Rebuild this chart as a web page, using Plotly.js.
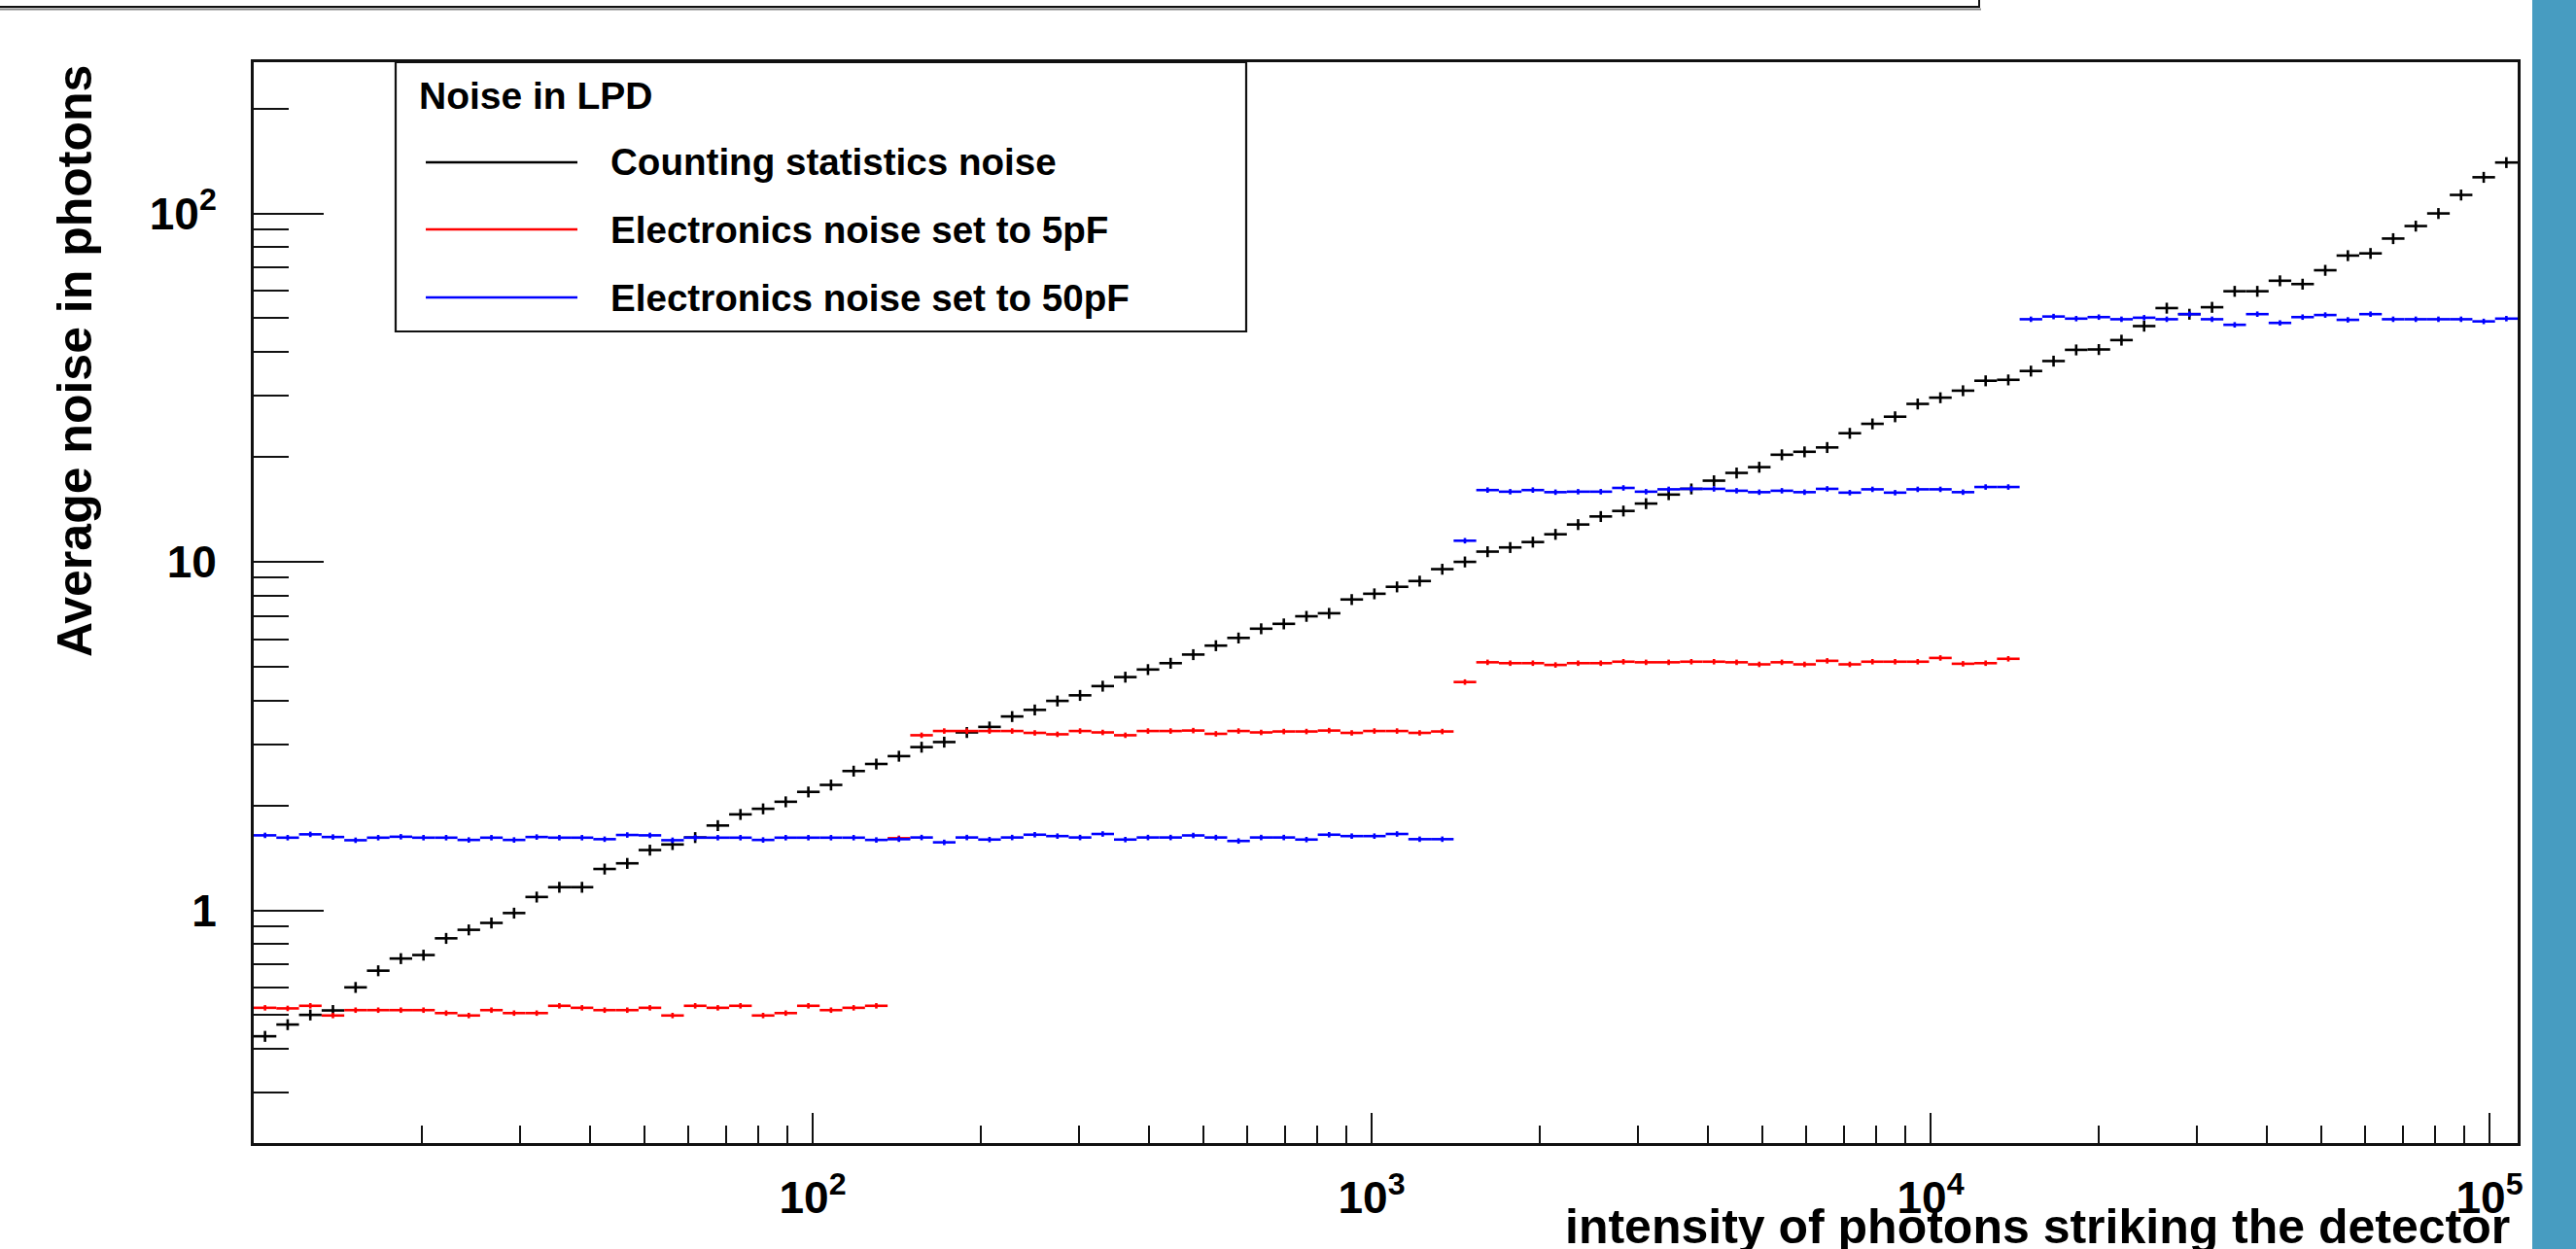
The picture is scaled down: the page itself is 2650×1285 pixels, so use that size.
<!DOCTYPE html>
<html>
<head>
<meta charset="utf-8">
<script src="https://cdn.plot.ly/plotly-3.0.1.min.js"></script>
<style>html,body{margin:0;padding:0;background:#fff;}#chart{width:2650px;height:1285px;}</style>
</head>
<body>
<div id="chart"></div>
<script>
// ---- histogram binning (log-spaced bins in photon intensity) ----
const nBins = 100;
const intensityMin = 10;       // left edge of first bin
const intensityMax = 112300;   // right edge of last bin

// ---- series values (average noise in photons, one per bin) ----
const countingNoise = [
  0.435, 0.470, 0.501, 0.516, 0.601, 0.671, 0.727, 0.744, 0.831, 0.879,
  0.920, 0.982, 1.092, 1.165, 1.165, 1.314, 1.364, 1.489, 1.545, 1.618,
  1.751, 1.885, 1.956, 2.049, 2.187, 2.29, 2.51, 2.63, 2.77, 2.94,
  3.04, 3.24, 3.36, 3.60, 3.76, 3.99, 4.14, 4.40, 4.67, 4.91,
  5.12, 5.42, 5.75, 6.05, 6.43, 6.64, 6.98, 7.12, 7.80, 8.10,
  8.48, 8.81, 9.53, 10.0, 10.7, 11.0, 11.4, 12.0, 12.8, 13.5,
  14.0, 14.7, 15.6, 16.2, 17.1, 18.0, 18.7, 20.3, 20.7, 21.3,
  23.4, 24.9, 26.1, 28.4, 29.6, 31.0, 33.1, 33.3, 35.3, 37.7,
  40.6, 40.7, 43.3, 47.5, 53.5, 51.4, 53.8, 59.8, 59.8, 64.1,
  62.7, 68.7, 75.7, 76.8, 84.7, 92.0, 100, 113, 127, 140
];
const noise5pF = [
  0.525, 0.523, 0.532, 0.499, 0.517, 0.517, 0.517, 0.517, 0.507, 0.499,
  0.517, 0.507, 0.507, 0.532, 0.525, 0.517, 0.517, 0.525, 0.499, 0.532,
  0.525, 0.532, 0.499, 0.507, 0.532, 0.517, 0.525, 0.532, 1.61, 3.18,
  3.27, 3.27, 3.27, 3.27, 3.23, 3.20, 3.27, 3.24, 3.18, 3.27,
  3.27, 3.28, 3.21, 3.27, 3.24, 3.26, 3.26, 3.28, 3.23, 3.27,
  3.27, 3.23, 3.26, 4.52, 5.15, 5.12, 5.12, 5.06, 5.12, 5.12,
  5.17, 5.15, 5.15, 5.17, 5.17, 5.15, 5.08, 5.15, 5.08, 5.20,
  5.08, 5.17, 5.17, 5.17, 5.30, 5.10, 5.12, 5.27, null, null,
  null, null, null, null, null, null, null, null, null, null,
  null, null, null, null, null, null, null, null, null, null
];
const noise50pF = [
  1.641, 1.616, 1.652, 1.623, 1.589, 1.616, 1.626, 1.616, 1.616, 1.592,
  1.616, 1.592, 1.623, 1.616, 1.616, 1.600, 1.645, 1.641, 1.589, 1.616,
  1.616, 1.616, 1.592, 1.616, 1.616, 1.616, 1.616, 1.592, 1.600, 1.618,
  1.567, 1.618, 1.596, 1.618, 1.648, 1.633, 1.618, 1.656, 1.596, 1.618,
  1.618, 1.640, 1.618, 1.581, 1.618, 1.618, 1.596, 1.648, 1.633, 1.633,
  1.656, 1.600, 1.600, 11.5, 16.07, 15.9, 16.07, 15.85, 15.9, 15.9,
  16.3, 15.9, 16.15, 16.2, 16.2, 16.0, 15.85, 16.0, 15.85, 16.2,
  15.8, 16.15, 15.8, 16.15, 16.15, 15.85, 16.4, 16.4, 49.7, 50.6,
  49.9, 50.4, 49.7, 50.2, 49.7, 51.4, 49.7, 47.9, 51.4, 48.5,
  50.4, 51.1, 49.5, 51.4, 49.7, 49.7, 49.7, 49.7, 49.0, 49.9
];

// ---- labels ----
const seriesNames = ["Counting statistics noise", "Electronics noise set to 5pF", "Electronics noise set to 50pF"];
const seriesColors = ["#000000", "#ff0000", "#0000ff"];
const legendHeader = "Noise in LPD";
const xTickVals = [100, 1000, 10000, 100000];
const xTickText = ["10<sup>2</sup>", "10<sup>3</sup>", "10<sup>4</sup>", "10<sup>5</sup>"];
const yTickVals = [1, 10, 100];
const yTickText = ["1", "10", "10<sup>2</sup>"];
const xTitle = "intensity of photons striking the detector";
const yTitle = "Average noise in photons";

// ---- bin geometry from the binning definition ----
const lmin = Math.log10(intensityMin), lmax = Math.log10(intensityMax);
const edges = [];
for (let k = 0; k <= nBins; k++) edges.push(Math.pow(10, lmin + (lmax - lmin) * k / nBins));
const centers = [], plus = [], minus = [];
for (let k = 0; k < nBins; k++) {
  const c = Math.sqrt(edges[k] * edges[k + 1]);
  centers.push(c); plus.push(edges[k + 1] - c); minus.push(c - edges[k]);
}
function minorTicks(lo, hi) {
  const v = [];
  for (let p = -1; p <= 5; p++) for (let m = 2; m <= 9; m++) {
    const t = m * Math.pow(10, p);
    if (t > lo && t < hi) v.push(t);
  }
  return v;
}

// ---- page geometry (pixels) ----
const W = 2650, H = 1285, L = 261, R = 2590, T = 64, B = 1176;
const px = X => (X - L) / (R - L);
const py = Y => (B - Y) / (B - T);

const FONT = "Liberation Sans, Arial, Helvetica, sans-serif";

function histTrace(vals, i, pct) {
  return {
    type: "scatter", mode: "markers", x: centers, y: vals, name: seriesNames[i],
    showlegend: false, cliponaxis: true,
    marker: { color: seriesColors[i], size: 3 },
    error_x: { type: "data", symmetric: false, array: plus, arrayminus: minus,
               width: 0, thickness: 2.6, color: seriesColors[i] },
    error_y: { type: "percent", value: pct, width: 0, thickness: 2.6, color: seriesColors[i] }
  };
}

const data = [
  histTrace(countingNoise, 0, 3.6),
  histTrace(noise5pF, 1, 1.8),
  histTrace(noise50pF, 2, 1.8)
];

const shapes = [
  // blue strip on the right
  { type: "rect", xref: "paper", yref: "paper", x0: px(2605), x1: px(2660), y0: py(-10), y1: py(1295),
    fillcolor: "#479cc1", line: { width: 0 } },
  // cut-off title box at the top
  { type: "rect", xref: "paper", yref: "paper", x0: px(-20), x1: px(2036), y0: py(7), y1: py(-20),
    fillcolor: "rgba(0,0,0,0)", line: { color: "#111", width: 2 } },
  { type: "line", xref: "paper", yref: "paper", x0: px(0), x1: px(2038), y0: py(9.5), y1: py(9.5),
    line: { color: "#888", width: 2 } },
  // legend box
  { type: "rect", xref: "paper", yref: "paper", x0: px(407), x1: px(1282), y0: py(341), y1: py(64),
    fillcolor: "#ffffff", line: { color: "#111", width: 2.2 }, layer: "below" }
];
const annotations = [
  { xref: "paper", yref: "paper", x: px(429), y: py(98), xanchor: "left", yanchor: "middle",
    text: legendHeader, showarrow: false, font: { family: FONT, size: 39, weight: "bold", color: "#000" } },
  { xref: "paper", yref: "paper", x: px(77), y: py(372), xanchor: "center", yanchor: "middle",
    textangle: -90, text: yTitle, showarrow: false, font: { family: FONT, size: 50, weight: "bold", color: "#000" } },
  { xref: "paper", yref: "paper", x: px(2584), y: py(1262), xanchor: "right", yanchor: "middle",
    text: xTitle, showarrow: false, font: { family: FONT, size: 50, weight: "bold", color: "#000" } }
];
const legendY = [167, 236, 306];
for (let i = 0; i < 3; i++) {
  shapes.push({ type: "line", xref: "paper", yref: "paper", x0: px(438), x1: px(594),
    y0: py(legendY[i]), y1: py(legendY[i]), line: { color: seriesColors[i], width: 2.4 } });
  annotations.push({ xref: "paper", yref: "paper", x: px(626), y: py(legendY[i]), xanchor: "left", yanchor: "middle",
    text: seriesNames[i], showarrow: false, font: { family: FONT, size: 38.6, weight: "bold", color: "#000" } });
}

const layout = {
  width: W, height: H,
  margin: { l: L, r: W - R, t: T, b: H - B, pad: 0 },
  paper_bgcolor: "#ffffff", plot_bgcolor: "rgba(0,0,0,0)",
  showlegend: false,
  xaxis: {
    type: "log", range: [lmin, lmax], autorange: false,
    showgrid: false, zeroline: false,
    showline: true, linecolor: "#111", linewidth: 3, mirror: true,
    ticks: "inside", ticklen: 31, tickwidth: 2, tickcolor: "#111",
    tickmode: "array", tickvals: xTickVals, ticktext: xTickText,
    tickfont: { family: FONT, size: 46, weight: "bold", color: "#000" },
    ticklabelstandoff: 14,
    minor: { tickmode: "array", tickvals: minorTicks(intensityMin, intensityMax), ticks: "inside",
             ticklen: 18, tickwidth: 2, tickcolor: "#111", showgrid: false }
  },
  yaxis: {
    type: "log", range: [-0.668, 2.434], autorange: false,
    showgrid: false, zeroline: false,
    showline: true, linecolor: "#111", linewidth: 3, mirror: true,
    ticks: "inside", ticklen: 72, tickwidth: 2, tickcolor: "#111",
    tickmode: "array", tickvals: yTickVals, ticktext: yTickText,
    tickfont: { family: FONT, size: 46, weight: "bold", color: "#000" },
    ticklabelstandoff: 26,
    minor: { tickmode: "array", tickvals: minorTicks(0.2, 280), ticks: "inside",
             ticklen: 36, tickwidth: 2, tickcolor: "#111", showgrid: false }
  },
  shapes: shapes,
  annotations: annotations
};

Plotly.newPlot("chart", data, layout, { staticPlot: true, displayModeBar: false });
</script>
</body>
</html>
